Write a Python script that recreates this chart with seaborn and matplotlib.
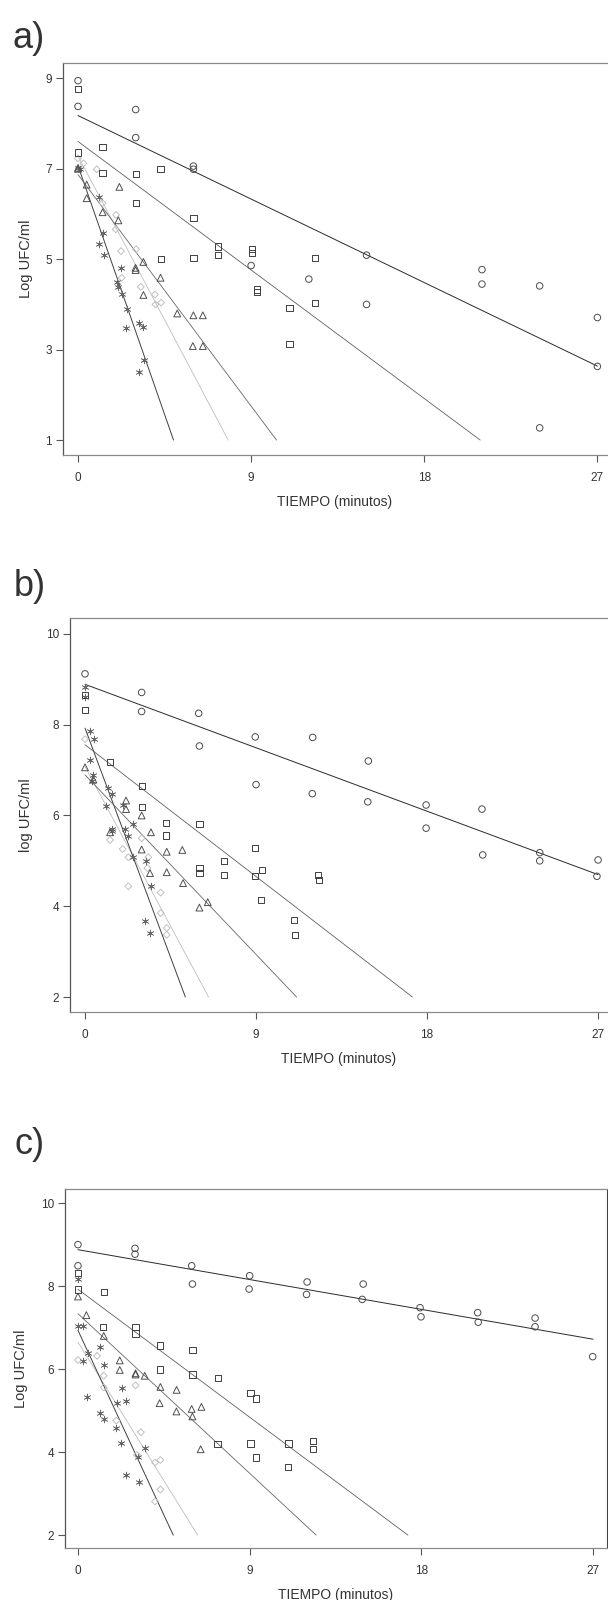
import numpy as np
import pandas as pd
import matplotlib
matplotlib.use("Agg")
import matplotlib.pyplot as plt
import seaborn as sns

# ---------------- data ----------------
# Panel a
A_CIRC_T = [0, 0, 3, 3, 6, 6, 9, 12, 15, 15, 21, 21, 24, 24, 27, 27]
A_CIRC_V = [8.95, 8.38, 8.31, 7.69, 7.06, 6.99, 4.86, 4.56, 5.09, 4.00, 4.77, 4.45, 4.41, 1.27, 3.71, 2.63]
A_SQ_T = [0, 0, 1.27, 1.27, 3.02, 3.02, 4.29, 6.0, 4.32, 6.0, 7.26, 7.26, 9.03, 9.03, 9.29, 9.29, 11.0, 11.0, 12.3, 12.34]
A_SQ_V = [8.76, 7.36, 7.48, 6.91, 6.88, 6.24, 7.00, 5.91, 5.00, 5.02, 5.28, 5.09, 5.22, 5.13, 4.33, 4.28, 3.92, 3.12, 5.02, 4.04]
A_TRI_T = [0, 0, 0.45, 0.45, 2.15, 1.28, 2.1, 3.4, 2.99, 2.99, 4.29, 3.4, 5.16, 6.0, 6.49, 5.97, 6.49]
A_TRI_V = [7.02, 7.00, 6.65, 6.35, 6.60, 6.04, 5.86, 4.94, 4.81, 4.76, 4.59, 4.21, 3.80, 3.76, 3.76, 3.08, 3.08]
A_DIA_T = [0, 0.28, 0.97, 1.28, 1.98, 1.96, 2.24, 3.02, 2.27, 3.26, 4.0, 4.03, 4.32]
A_DIA_V = [7.23, 7.12, 6.99, 6.24, 5.98, 5.66, 5.18, 5.22, 4.59, 4.39, 4.22, 4.00, 4.04]
A_AST_T = [0, 0.1, 1.11, 1.32, 1.11, 1.37, 2.24, 2.05, 2.1, 2.27, 2.57, 2.5, 3.19, 3.4, 3.44, 3.16]
A_AST_V = [7.02, 7.00, 6.37, 5.59, 5.34, 5.10, 4.80, 4.49, 4.39, 4.23, 3.89, 3.47, 3.59, 3.51, 2.77, 2.50]

# Panel b
B_CIRC_T = [0, 2.98, 2.98, 5.98, 6.02, 8.96, 9.0, 11.98, 11.96, 14.91, 14.88, 17.95, 17.95, 20.89, 20.93, 23.93, 23.93, 27.0, 26.94]
B_CIRC_V = [9.12, 8.71, 8.29, 8.25, 7.53, 7.73, 6.68, 7.72, 6.48, 7.20, 6.30, 6.23, 5.72, 6.14, 5.13, 5.18, 5.00, 5.02, 4.66]
B_SQ_T = [0, 0, 1.32, 2.98, 2.98, 4.26, 4.26, 6.02, 6.02, 6.02, 7.33, 7.33, 8.96, 8.96, 9.32, 9.28, 11.0, 11.04, 12.28, 12.3]
B_SQ_V = [8.66, 8.33, 7.17, 6.65, 6.18, 5.83, 5.56, 5.81, 4.85, 4.74, 5.00, 4.69, 5.29, 4.67, 4.79, 4.14, 3.70, 3.36, 4.69, 4.58]
B_TRI_T = [0, 0.44, 1.32, 2.16, 2.16, 2.98, 2.98, 3.47, 3.42, 4.3, 4.3, 5.12, 5.16, 6.02, 6.46]
B_TRI_V = [7.06, 6.79, 5.63, 6.33, 6.14, 6.00, 5.25, 5.63, 4.73, 5.20, 4.75, 5.24, 4.51, 3.97, 4.09]
B_DIA_T = [0, 1.32, 1.98, 2.28, 2.28, 2.98, 3.33, 3.28, 3.98, 3.98, 4.3, 4.3]
B_DIA_V = [7.68, 5.46, 5.26, 5.08, 4.44, 5.50, 5.08, 4.84, 4.30, 3.85, 3.52, 3.37]
B_AST_T = [0, 0, 0.26, 0.49, 0.26, 0.44, 0.35, 1.19, 1.4, 1.1, 2.02, 1.4, 1.4, 2.1, 2.54, 2.28, 2.51, 3.21, 3.46, 3.16, 3.42]
B_AST_V = [8.84, 8.62, 7.85, 7.68, 7.23, 6.90, 6.75, 6.60, 6.47, 6.21, 6.23, 5.70, 5.65, 5.70, 5.82, 5.55, 5.08, 4.99, 4.44, 3.67, 3.42]

# Panel c
C_CIRC_T = [0, 0, 2.99, 2.99, 5.96, 6.0, 9.0, 8.97, 12.01, 11.98, 14.95, 14.9, 17.93, 17.98, 20.95, 20.98, 23.96, 23.96, 26.98]
C_CIRC_V = [9.00, 8.49, 8.91, 8.77, 8.49, 8.05, 8.25, 7.93, 8.10, 7.80, 8.05, 7.68, 7.48, 7.26, 7.36, 7.13, 7.23, 7.02, 6.30]
C_SQ_T = [0, 0, 1.35, 1.31, 3.02, 3.02, 4.28, 4.28, 6.0, 6.0, 7.34, 9.04, 9.35, 7.31, 9.04, 9.32, 11.03, 11.0, 12.33, 12.33]
C_SQ_V = [8.32, 7.92, 7.85, 7.01, 7.01, 6.86, 6.57, 5.99, 6.47, 5.87, 5.79, 5.43, 5.29, 4.20, 4.21, 3.87, 4.21, 3.65, 4.27, 4.07]
C_TRI_T = [0, 0.44, 1.35, 2.19, 2.19, 3.02, 3.02, 3.5, 4.32, 4.28, 5.17, 5.16, 5.96, 6.0, 6.47, 6.43]
C_TRI_V = [7.75, 7.30, 6.80, 6.21, 5.98, 5.90, 5.87, 5.84, 5.57, 5.18, 5.50, 4.98, 5.04, 4.86, 5.09, 4.07]
C_DIA_T = [0, 1.0, 1.35, 1.35, 3.02, 2.01, 3.3, 3.09, 4.04, 4.32, 4.32, 4.04]
C_DIA_V = [6.22, 6.32, 5.84, 5.56, 5.61, 4.76, 4.48, 3.93, 3.75, 3.81, 3.10, 2.81]
C_AST_T = [0, 0, 0.26, 1.14, 0.52, 0.26, 1.36, 0.49, 2.31, 2.05, 2.53, 1.14, 1.36, 2.01, 2.27, 3.5, 3.15, 2.53, 3.2]
C_AST_V = [8.17, 7.04, 7.04, 6.54, 6.40, 6.20, 6.09, 5.34, 5.55, 5.18, 5.23, 4.94, 4.79, 4.57, 4.21, 4.09, 3.89, 3.46, 3.29]

PANEL_LABELS = ["a)", "b)", "c)"]
Y_LABELS = ["Log UFC/ml", "log UFC/ml", "Log UFC/ml"]
X_LABEL = "TIEMPO (minutos)"
X_TICKS = [0, 9, 18, 27]
Y_TICKS_A = [1, 3, 5, 7, 9]
Y_TICKS_BC = [2, 4, 6, 8, 10]

# ---------------- styling ----------------
sns.set_style("white")
plt.rcParams["font.family"] = ["Liberation Sans", "DejaVu Sans"]

W, H = 608, 1600
fig = plt.figure(figsize=(W / 100, H / 100), dpi=100)


def ax_at(left, right, top, bottom):
    return fig.add_axes([left / W, 1 - bottom / H, (right - left) / W, (bottom - top) / H])


STYLES = {
    "circ": dict(marker="o", edge="#4a4a4a", line="#2a2a2a", lw=0.7, s=22),
    "sq": dict(marker="s", edge="#3f3f3f", line="#606060", lw=0.6, s=20),
    "tri": dict(marker="^", edge="#505050", line="#666666", lw=0.6, s=24),
    "dia": dict(marker="D", edge="#c0c0c0", line="#bdbdbd", lw=0.6, s=12),
    "ast": dict(marker=(6, 2, 0), edge="#666666", line="#404040", lw=0.7, s=24),
}

panels = [
    dict(rect=(63, 607, 63, 455), xlim=(-0.78, 27.5), ylim=(0.67, 9.34), yticks=Y_TICKS_A, clip=1,
         series={"circ": (A_CIRC_T, A_CIRC_V), "sq": (A_SQ_T, A_SQ_V), "tri": (A_TRI_T, A_TRI_V),
                 "dia": (A_DIA_T, A_DIA_V), "ast": (A_AST_T, A_AST_V)},
         letter=(12, 48), right_spine=False),
    dict(rect=(70, 607, 618, 1012), xlim=(-0.79, 27.47), ylim=(1.67, 10.35), yticks=Y_TICKS_BC, clip=2,
         series={"circ": (B_CIRC_T, B_CIRC_V), "sq": (B_SQ_T, B_SQ_V), "tri": (B_TRI_T, B_TRI_V),
                 "dia": (B_DIA_T, B_DIA_V), "ast": (B_AST_T, B_AST_V)},
         letter=(14, 596), right_spine=False),
    dict(rect=(65, 607, 1189, 1548), xlim=(-0.68, 27.73), ylim=(1.69, 10.34), yticks=Y_TICKS_BC, clip=2,
         series={"circ": (C_CIRC_T, C_CIRC_V), "sq": (C_SQ_T, C_SQ_V), "tri": (C_TRI_T, C_TRI_V),
                 "dia": (C_DIA_T, C_DIA_V), "ast": (C_AST_T, C_AST_V)},
         letter=(14, 1154), right_spine=True),
]

draw_order = ["dia", "ast", "tri", "sq", "circ"]

for i, p in enumerate(panels):
    ax = ax_at(*p["rect"])
    for key in draw_order:
        t, v = p["series"][key]
        st = STYLES[key]
        df = pd.DataFrame({"t": t, "v": v})
        # regression line (OLS), drawn from t=0 until it reaches the lower limit
        m, b = np.polyfit(df["t"], df["v"], 1)
        t_end = min(27.0, (p["clip"] - b) / m) if m < 0 else 27.0
        tt = np.linspace(0, t_end, 50)
        line_df = pd.DataFrame({"t": tt, "v": m * tt + b})
        sns.lineplot(data=line_df, x="t", y="v", ax=ax, color=st["line"], lw=st["lw"], zorder=2)
        if key == "ast":
            sns.scatterplot(data=df, x="t", y="v", ax=ax, marker=st["marker"], s=st["s"],
                            color=st["edge"], linewidth=0.5, zorder=3)
        else:
            sns.scatterplot(data=df, x="t", y="v", ax=ax, marker=st["marker"], s=st["s"],
                            facecolors="none", edgecolor=st["edge"], linewidth=0.7, zorder=3)

    ax.set_xlim(*p["xlim"])
    ax.set_ylim(*p["ylim"])
    ax.set_xticks(X_TICKS)
    ax.set_yticks(p["yticks"])
    ax.tick_params(axis="x", direction="out", length=5, width=0.8, color="#555555",
                   labelsize=8.5, labelcolor="#333333", bottom=True, pad=7)
    ax.tick_params(axis="y", direction="out", length=5, width=0.8, color="#555555",
                   labelsize=8.5, labelcolor="#333333", left=True, pad=3)
    ax.set_xlabel(X_LABEL, fontsize=10, color="#333333", labelpad=8)
    ax.set_ylabel(Y_LABELS[i], fontsize=10.5, color="#333333", labelpad=9)
    for side in ["top", "bottom"]:
        ax.spines[side].set_color("#8a8a8a")
        ax.spines[side].set_linewidth(0.9)
    ax.spines["left"].set_color("#555555")
    ax.spines["left"].set_linewidth(0.9)
    ax.spines["right"].set_visible(p["right_spine"])
    ax.spines["right"].set_color("#444444")
    lx, ly = p["letter"]
    fig.text(lx / W, 1 - ly / H, PANEL_LABELS[i], fontsize=26, color="#333333",
             ha="left", va="baseline")

fig.savefig("out.png", dpi=100, facecolor="white")
